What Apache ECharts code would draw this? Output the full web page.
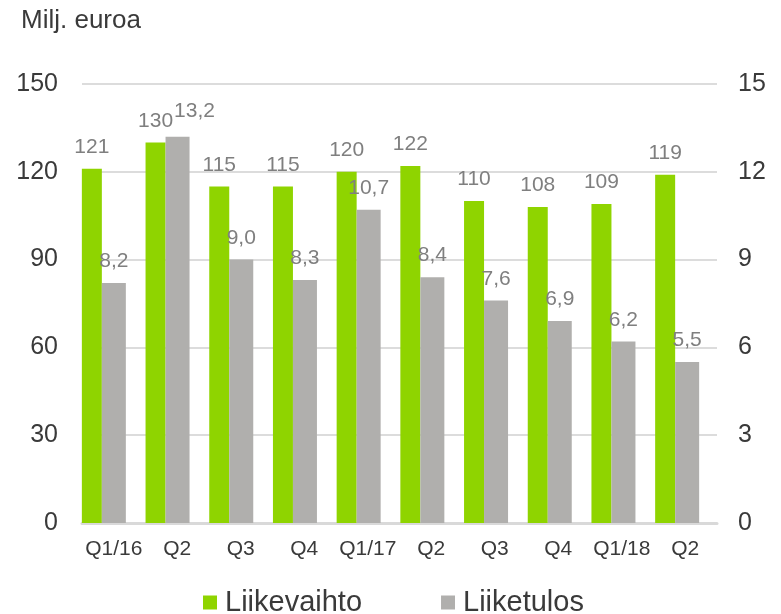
<!DOCTYPE html>
<html><head><meta charset="utf-8">
<script src="https://cdn.jsdelivr.net/npm/echarts@6/dist/echarts.min.js"></script>
<style>html,body{margin:0;padding:0;background:#fff}#c{width:781px;height:614px}</style>
</head><body><div id="c"></div>
<script>
const categories = ['Q1/16','Q2','Q3','Q4','Q1/17','Q2','Q3','Q4','Q1/18','Q2'];
const liikevaihto = [121,130,115,115,120,122,110,108,109,119];
const liiketulos = [8.2,13.2,9.0,8.3,10.7,8.4,7.6,6.9,6.2,5.5];
const leftTicks = {min:0,max:150,interval:30};
const rightTicks = {min:0,max:15,interval:3};

const chart = echarts.init(document.getElementById('c'));
const font = 'Liberation Sans, Arial, sans-serif';
const dark = '#3a3a3a';
const labelGray = '#7f7f7f';
const gridTop = 84, gridBottom = 91;

// small nudge for the crowded label pair in Q2/16
const tulosData = liiketulos.map((v,i)=> i===1 ? {value:v,label:{offset:[17,-4]}} : v);

chart.setOption({
  animation:false,
  textStyle:{fontFamily:font},
  graphic:[{type:'text',left:21,top:8,style:{text:'Milj. euroa',font:'26px '+font,fill:dark}}],
  grid:[
    {left:82,right:64,top:gridTop,bottom:gridBottom},
    {left:72,right:72,top:gridTop,bottom:gridBottom}
  ],
  legend:{top:583,left:198,itemWidth:14,itemHeight:14,itemGap:79,icon:'rect',
    textStyle:{fontSize:29,color:dark,fontFamily:font,padding:[0,0,0,3]},
    data:['Liikevaihto','Liiketulos']},
  xAxis:[
    {type:'category',gridIndex:0,data:categories,
     axisLine:{lineStyle:{color:'#d9d9d9',width:3}},axisTick:{show:false},
     axisLabel:{fontSize:21,color:dark,margin:16,interval:0}},
    {type:'category',gridIndex:1,data:categories,show:false}
  ],
  yAxis:[
    {type:'value',gridIndex:0,...leftTicks,axisLine:{show:false},axisTick:{show:false},
     splitLine:{lineStyle:{color:'#dcdcdc',width:2}},
     axisLabel:{fontSize:25,color:dark,margin:24}},
    {type:'value',gridIndex:0,...rightTicks,position:'right',axisLine:{show:false},axisTick:{show:false},
     splitLine:{show:false},
     axisLabel:{fontSize:25,color:dark,margin:21}},
    {type:'value',gridIndex:1,...leftTicks,show:false,splitLine:{show:false}},
    {type:'value',gridIndex:1,...rightTicks,show:false,splitLine:{show:false}}
  ],
  series:[
    {name:'Liikevaihto',type:'bar',data:liikevaihto,xAxisIndex:1,yAxisIndex:2,barWidth:20,barGap:'0%',
     itemStyle:{color:'#8fd400'},
     label:{show:true,position:'top',fontSize:21,color:labelGray,distance:11}},
    {name:'Liiketulos',type:'bar',data:tulosData,xAxisIndex:1,yAxisIndex:3,barWidth:24,barGap:'0%',
     itemStyle:{color:'#b0afad'},
     label:{show:true,position:'top',fontSize:21,color:labelGray,distance:11,
       formatter:p=>p.value.toFixed(1).replace('.',',')}}
  ]
});
</script></body></html>
